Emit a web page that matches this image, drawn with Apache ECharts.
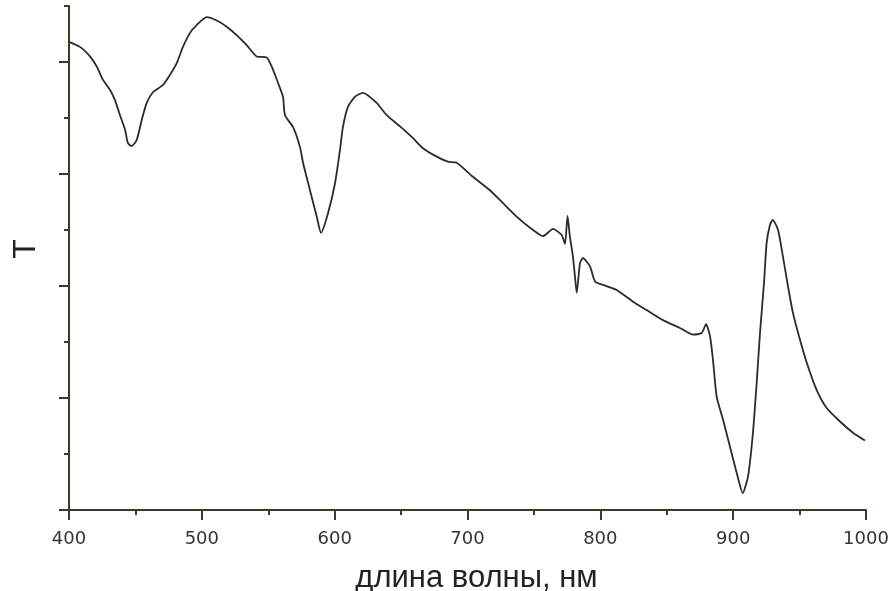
<!DOCTYPE html>
<html>
<head>
<meta charset="utf-8">
<script src="https://cdn.jsdelivr.net/npm/echarts@6/dist/echarts.min.js"></script>
<style>
  html, body { margin: 0; padding: 0; background: #fff; }
  #chart { width: 891px; height: 591px; }
</style>
</head>
<body>
<div id="chart"></div>
<script>
// длина волны, нм
const wavelength = [
  400, 408.3, 415.8, 420.9, 425.6, 430.9, 434.6, 438.4, 442.2, 444.4,
  447.2, 451.0, 454.7, 458.5, 463.2, 470.8, 476.0, 481.1, 485.8, 491.1,
  496.1, 503.7, 511.2, 518.7, 526.2, 533.8, 541.3, 548.8, 552.6, 557.3,
  561.1, 562.6, 568.6, 573.9, 576.2, 581.4, 586.5, 589.7, 595.0, 600.3,
  604.0, 606.3, 610.0, 615.3, 621.3, 631.6, 639.2, 649.2, 659.0, 666.5,
  676.8, 685.3, 691.9, 704.1, 716.9, 726.7, 737.0, 747.1, 756.8, 764.4,
  770.9, 773.4, 775.3, 777.1, 779.4, 780.9, 782.2, 784.7, 786.9, 792.2,
  796.0, 802.0, 812.3, 824.6, 834.9, 847.2, 860.0, 869.8, 876.3, 879.6,
  882.6, 884.8, 887.6, 892.4, 897.6, 902.7, 907.2, 911.2, 914.9, 917.7,
  920.2, 923.2, 925.2, 927.7, 929.8, 933.8, 937.5, 941.3, 945.0, 950.3,
  955.4, 962.9, 970.4, 980.4, 990.2, 999.2
];
// T (отн. ед.)
const transmittance = [
  8.36, 8.27, 8.10, 7.92, 7.68, 7.50, 7.32, 7.05, 6.79, 6.55,
  6.50, 6.61, 6.96, 7.27, 7.46, 7.59, 7.77, 7.98, 8.27, 8.52,
  8.66, 8.80, 8.74, 8.63, 8.48, 8.30, 8.10, 8.08, 7.92, 7.63,
  7.38, 7.05, 6.84, 6.48, 6.20, 5.71, 5.24, 4.95, 5.30, 5.84,
  6.43, 6.85, 7.20, 7.38, 7.45, 7.27, 7.05, 6.85, 6.64, 6.46,
  6.31, 6.22, 6.20, 5.95, 5.71, 5.48, 5.24, 5.04, 4.89, 5.02,
  4.91, 4.75, 5.25, 4.88, 4.52, 4.17, 3.88, 4.41, 4.50, 4.35,
  4.08, 4.02, 3.93, 3.72, 3.57, 3.39, 3.25, 3.13, 3.16, 3.32,
  3.10, 2.68, 2.02, 1.61, 1.13, 0.66, 0.30, 0.60, 1.38, 2.27,
  3.16, 4.05, 4.77, 5.09, 5.18, 5.00, 4.52, 3.99, 3.52, 3.04,
  2.63, 2.14, 1.82, 1.58, 1.38, 1.24
];
const xTicks = [400, 500, 600, 700, 800, 900, 1000];
const yMajorTicks = [0, 2, 4, 6, 8];

const axisColor = "#3b3b2c";
const chart = echarts.init(document.getElementById("chart"));

const option = {
  animation: false,
  backgroundColor: "#fff",
  grid: { left: 69, right: 25, top: 6, bottom: 81, outerBoundsMode: "none" },
  xAxis: {
    type: "value",
    min: xTicks[0],
    max: xTicks[xTicks.length - 1],
    interval: 100,
    name: "длина волны, нм",
    nameLocation: "middle",
    nameGap: 53,
    nameTextStyle: { fontFamily: "Liberation Sans", fontSize: 31, color: "#222", padding: [0, 0, 0, 18] },
    axisLine: { lineStyle: { color: axisColor, width: 2 } },
    axisTick: { length: 10, lineStyle: { color: axisColor, width: 2 } },
    minorTick: { show: true, splitNumber: 2, length: 5, lineStyle: { color: axisColor, width: 2 } },
    axisLabel: {
      margin: 20,
      fontFamily: "DejaVu Sans",
      fontSize: 18,
      color: "#333",
      formatter: (v) => String(v),
    },
    splitLine: { show: false },
  },
  yAxis: [
    {
      type: "value",
      min: 0,
      max: 9,
      interval: 1,
      name: "T",
      nameLocation: "middle",
      nameRotate: 90,
      nameGap: 27,
      nameTextStyle: { fontFamily: "Liberation Sans", fontSize: 32, color: "#222", padding: [0, 0, 0, 18] },
      axisLine: { show: true, lineStyle: { color: axisColor, width: 2 } },
      axisTick: { length: 5, lineStyle: { color: axisColor, width: 2 } },
      axisLabel: { show: false },
      splitLine: { show: false },
    },
    {
      type: "value",
      min: 0,
      max: 9,
      position: "left",
      axisLine: { show: false },
      axisTick: { show: true, customValues: yMajorTicks, length: 10, lineStyle: { color: axisColor, width: 2 } },
      axisLabel: { show: false },
      splitLine: { show: false },
    },
  ],
  series: [
    {
      type: "line",
      yAxisIndex: 0,
      data: wavelength.map((w, i) => [w, transmittance[i]]),
      showSymbol: false,
      smooth: 0.2,
      lineStyle: { color: "#2b2b2b", width: 1.8 },
    },
  ],
};

chart.setOption(option);
</script>
</body>
</html>
